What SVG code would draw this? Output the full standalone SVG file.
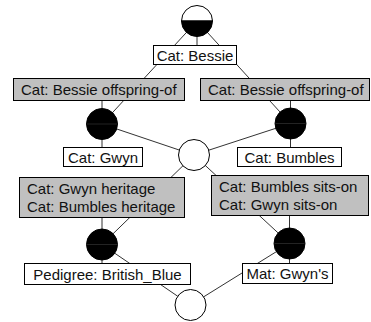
<svg xmlns="http://www.w3.org/2000/svg" width="371" height="322" viewBox="0 0 371 322">
<style>
.edge{stroke:#333;stroke-width:1;fill:none}
.lbl{fill:#fff;stroke:#000;stroke-width:1}
.rel{fill:#c0c0c0;stroke:#000;stroke-width:1}
text{font-family:"Liberation Sans",Arial,sans-serif;font-size:15px;fill:#111}
.c{text-anchor:middle}
.blk{fill:#000;stroke:#000;stroke-width:1}
.wht{fill:#fff;stroke:#000;stroke-width:1}
.seam{stroke:#3a3a3a;stroke-width:0.6}
</style>
<rect width="371" height="322" fill="#fff"/>
<g id="connectors">
<line class="edge" x1="197" y1="21" x2="102" y2="124"/>
<line class="edge" x1="197" y1="21" x2="290.5" y2="123.5"/>
<line class="edge" x1="102" y1="124" x2="194" y2="155"/>
<line class="edge" x1="290.5" y1="123.5" x2="194" y2="155"/>
<line class="edge" x1="194" y1="155" x2="102" y2="244.5"/>
<line class="edge" x1="194" y1="155" x2="289.5" y2="243.5"/>
<line class="edge" x1="102" y1="244.5" x2="190.5" y2="305"/>
<line class="edge" x1="289.5" y1="243.5" x2="190.5" y2="305"/>
<line class="edge" x1="197" y1="21" x2="197" y2="46"/>
<line class="edge" x1="102" y1="90" x2="102" y2="157"/>
<line class="edge" x1="290.5" y1="90" x2="290.5" y2="157"/>
<line class="edge" x1="102" y1="200" x2="102" y2="274"/>
<line class="edge" x1="289.5" y1="200" x2="289.5" y2="274"/>
</g>
<g id="n-bessie-rel-left"><rect class="rel" x="13.5" y="78.5" width="171" height="22"/><text x="21" y="94.5">Cat: Bessie offspring-of</text></g>
<g id="n-bessie-rel-right"><rect class="rel" x="200.5" y="78.5" width="169" height="22"/><text x="208" y="94.5">Cat: Bessie offspring-of</text></g>
<g id="n-heritage"><rect class="rel" x="19.5" y="177.5" width="165" height="40"/><text x="27" y="193.5">Cat: Gwyn heritage</text><text x="27" y="211.5">Cat: Bumbles heritage</text></g>
<g id="n-sitson"><rect class="rel" x="211.5" y="175.5" width="157" height="40"/><text x="219" y="192">Cat: Bumbles sits-on</text><text x="219" y="210">Cat: Gwyn sits-on</text></g>
<g id="n-bessie-label"><rect class="lbl" x="153.5" y="45.5" width="83" height="19"/><text class="c" x="195" y="61">Cat: Bessie</text></g>
<g id="n-gwyn-label"><rect class="lbl" x="63.5" y="147.5" width="79" height="19"/><text class="c" x="103" y="163">Cat: Gwyn</text></g>
<g id="n-bumbles-label"><rect class="lbl" x="237.5" y="147.5" width="104" height="19"/><text class="c" x="289.5" y="163">Cat: Bumbles</text></g>
<g id="n-pedigree-label"><rect class="lbl" x="24.5" y="263.5" width="166" height="21"/><text class="c" x="107.5" y="279.5">Pedigree: British_Blue</text></g>
<g id="n-mat-label"><rect class="lbl" x="242.5" y="263.5" width="90" height="20"/><text class="c" x="287.5" y="279">Mat: Gwyn's</text></g>
<g id="n-bessie"><path d="M181.5 21 A15.5 15.5 0 0 1 212.5 21 Z" class="wht"/><path d="M181.5 21 A15.5 15.5 0 0 0 212.5 21 Z" class="blk"/></g>
<g id="n-gwyn"><circle class="blk" cx="102" cy="124" r="15.5"/><line class="seam" x1="87" y1="124" x2="117" y2="124"/></g>
<g id="n-bumbles"><circle class="blk" cx="290.5" cy="123.5" r="15.5"/><line class="seam" x1="275.5" y1="123.5" x2="305.5" y2="123.5"/></g>
<g id="n-join"><circle class="wht" cx="194" cy="155" r="15.5"/></g>
<g id="n-pedigree"><circle class="blk" cx="102" cy="244.5" r="15.5"/><line class="seam" x1="87" y1="244.5" x2="117" y2="244.5"/></g>
<g id="n-mat"><circle class="blk" cx="289.5" cy="243.5" r="15.5"/><line class="seam" x1="274.5" y1="243.5" x2="304.5" y2="243.5"/></g>
<g id="n-bottom"><circle class="wht" cx="190.5" cy="305" r="15.5"/></g>
</svg>
